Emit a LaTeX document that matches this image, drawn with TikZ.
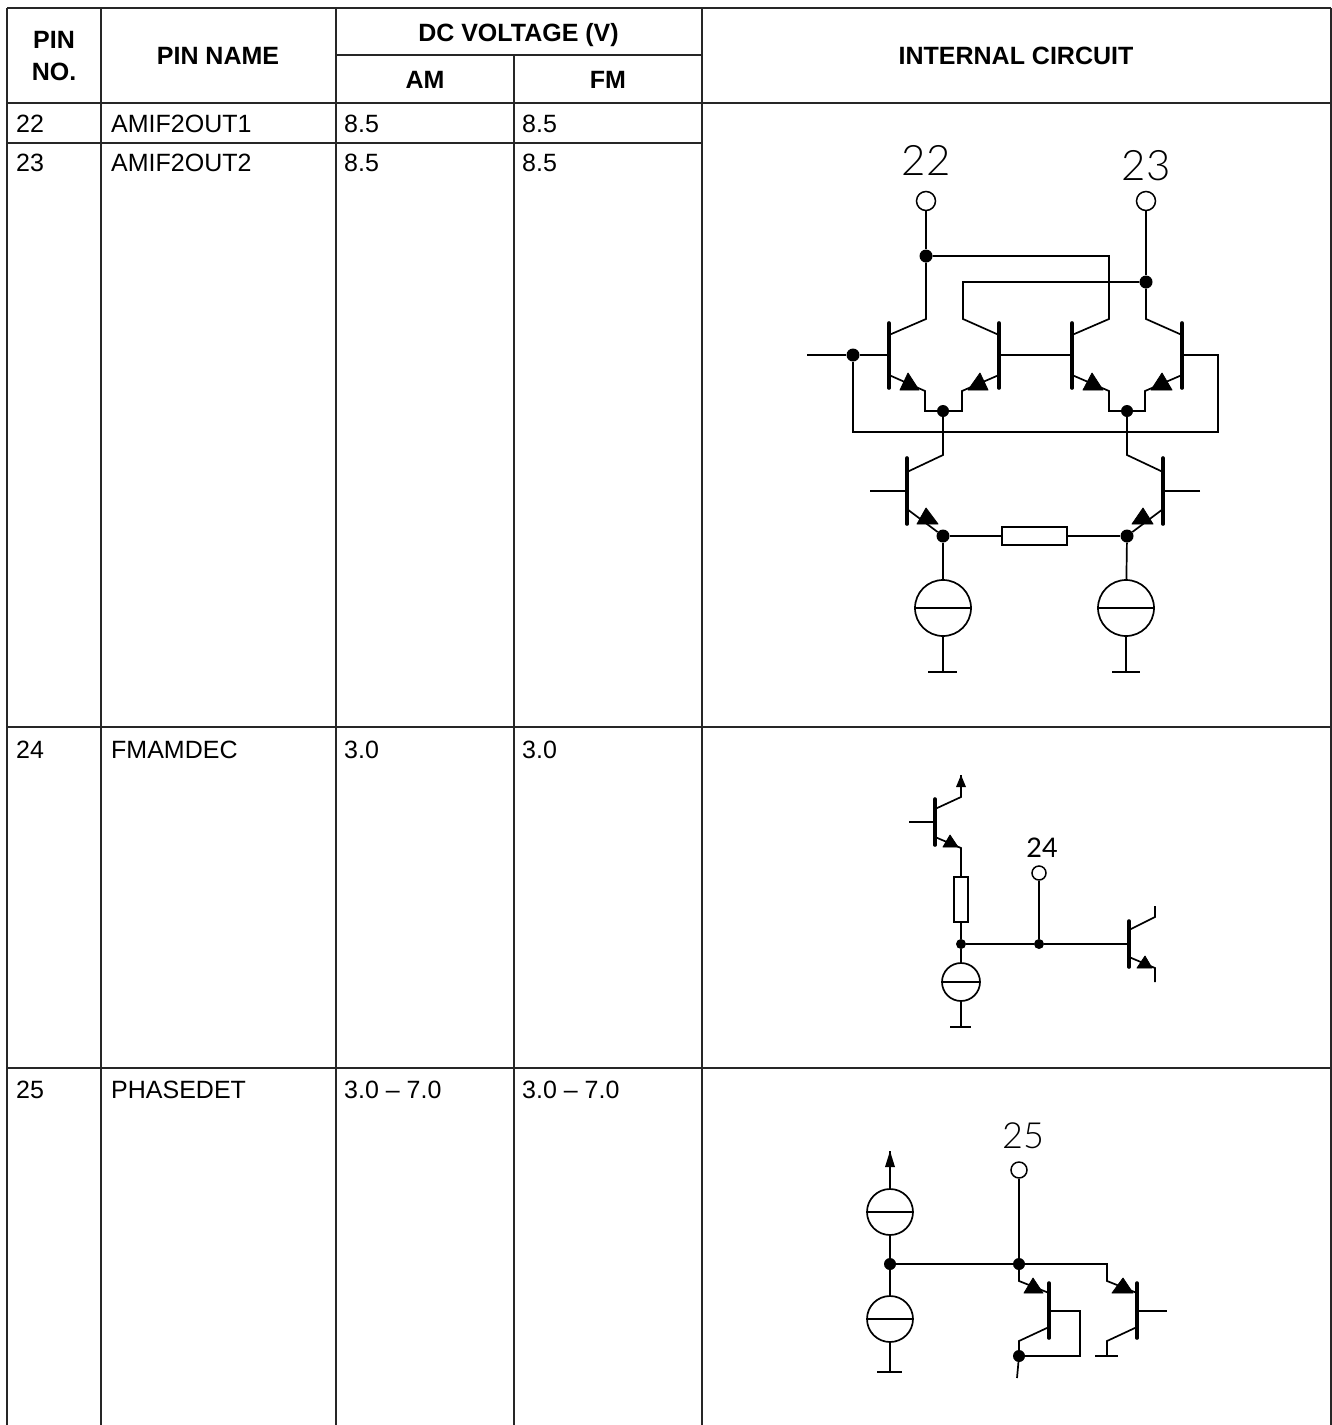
\documentclass[tikz,border=0pt]{standalone}
\usepackage{fontspec}
\setmainfont{Liberation Sans}
\newfontfamily\thinfont{Lato Light}
\newfontfamily\midfont{Lato}
\newcommand{\qbar}[7]{% name, x, top, bottom, collector y, base y, emitter y
  \coordinate (#1c) at (#2,#5);
  \coordinate (#1b) at (#2,#6);
  \coordinate (#1e) at (#2,#7);
  \coordinate (#1top) at (#2,#3);
  \coordinate (#1bot) at (#2,#4);
  \draw[tbar] (#1top) -- (#1bot);}
\newcommand{\tri}[5]{\filldraw[black,line width=0.8pt,line join=round] (#1,#4) -- (#3,#5) -- (#2,#4) -- cycle;}
\newcommand{\srcline}[1]{\draw[wire] (#1.west) -- (#1.east);}
\begin{document}
\begin{tikzpicture}[x=1pt,y=-1pt,
  grid/.style={line width=1.6pt,draw=black!85},
  wire/.style={line width=1.7pt,line join=miter},
  tbar/.style={line width=3.6pt,line cap=round},
  dot/.style={circle,fill=black,inner sep=0pt,minimum size=#1},
  dot/.default=13pt,
  pin/.style={circle,draw,line width=1.5pt,fill=white,inner sep=0pt,minimum size=#1},
  src/.style={circle,draw,line width=1.7pt,inner sep=0pt,minimum size=#1},
  res/.style={rectangle,draw,line width=1.4pt,inner sep=0pt},
  head/.style={font=\fontsize{25}{30}\selectfont\bfseries,inner sep=0pt,align=center},
  cell/.style={font=\fontsize{25}{30}\selectfont,inner sep=0pt,anchor=base west},
  lab/.style={inner sep=0pt,font=\thinfont\fontsize{#1}{#1}\selectfont},
  labm/.style={inner sep=0pt,font=\midfont\fontsize{#1}{#1}\selectfont},
]
\useasboundingbox (0,0) rectangle (1332,1425);
\fill[white] (0,0) rectangle (1332,1425);

% table
\coordinate (tl) at (7,8); \coordinate (tr) at (1331,8);
\draw[grid] (tl) -- (tr);
\draw[grid] (336,55) -- (702,55);
\draw[grid] (7,103) -- (1331,103);
\draw[grid] (7,143) -- (702,143);
\draw[grid] (7,727) -- (1331,727);
\draw[grid] (7,1068) -- (1331,1068);
\draw[grid] (7,8) -- (7,1425);
\draw[grid] (101,8) -- (101,1425);
\draw[grid] (336,8) -- (336,1425);
\draw[grid] (514,55) -- (514,1425);
\draw[grid] (702,8) -- (702,1425);
\draw[grid] (1331,8) -- (1331,1425);

\node[head,anchor=base] (hpin) at (54,48) {PIN};
\node[head,anchor=base] (hno) at (54,80) {NO.};
\node[head,anchor=base] (hname) at (218,64) {PIN NAME};
\node[head,anchor=base] (hdc) at (518.5,41) {DC VOLTAGE (V)};
\node[head,anchor=base] (ham) at (425,88) {AM};
\node[head,anchor=base] (hfm) at (608,88) {FM};
\node[head,anchor=base] (hint) at (1016,64) {INTERNAL CIRCUIT};

\node[cell] (a1) at (111,132) {AMIF2OUT1};
\node[cell] (a2) at (111,171) {AMIF2OUT2};
\node[cell] (a3) at (111,758) {FMAMDEC};
\node[cell] (a4) at (111,1098) {PHASEDET};
\node[cell] (n1) at (16,132) {22};
\node[cell] (n2) at (16,171) {23};
\node[cell] (n3) at (16,758) {24};
\node[cell] (n4) at (16,1098) {25};
\node[cell] (b1) at (344,132) {8.5};
\node[cell] (b2) at (344,171) {8.5};
\node[cell] (b3) at (344,758) {3.0};
\node[cell] (b4) at (344,1098) {3.0 – 7.0};
\node[cell] (c1) at (522,132) {8.5};
\node[cell] (c2) at (522,171) {8.5};
\node[cell] (c3) at (522,758) {3.0};
\node[cell] (c4) at (522,1098) {3.0 – 7.0};

% ---------- circuit 22/23 ----------
\node[lab=42] (l22) at (926,160) {22};
\node[lab=42] (l23) at (1146,166) {23};
\node[pin=19pt] (p22) at (926,201) {};
\node[pin=19pt] (p23) at (1146,201) {};
\node[dot] (d22) at (926,256) {};
\node[dot] (d23) at (1146,282) {};
\node[dot] (din) at (853,355) {};
\node[dot=12pt] (dm1) at (943,411) {};
\node[dot=12pt] (dm2) at (1127,411) {};
\node[dot] (dl) at (943,536) {};
\node[dot] (dr) at (1127,536) {};
\coordinate (inl) at (807,355);

\qbar{q1}{889}{323}{388}{335}{355}{375}
\qbar{q2}{999}{323}{388}{335}{355}{375}
\qbar{q3}{1072}{323}{388}{335}{355}{375}
\qbar{q4}{1182}{323}{388}{335}{355}{375}

\draw[wire] (p22) -- (d22);
\draw[wire] (p23) -- (d23);
\draw[wire] (d22) -- (926,319) -- (q1c);
\draw[wire] (d22) -- (1109,256) -- (1109,319) -- (q3c);
\draw[wire] (d23) -- (963,282) -- (963,319) -- (q2c);
\draw[wire] (d23) -- (1146,319) -- (q4c);
\draw[wire] (inl) -- (din) -- (q1b);
\draw[wire] (q2b) -- (q3b);
\draw[wire] (q4b) -- (1218,355) -- (1218,432) -- (853,432) -- (din);
\draw[wire] (q1e) -- (925,391) -- (925,411) -- (dm1);
\draw[wire] (q2e) -- (962,391) -- (962,411) -- (dm1);
\draw[wire] (q3e) -- (1109,391) -- (1109,411) -- (dm2);
\draw[wire] (q4e) -- (1145,391) -- (1145,411) -- (dm2);
\tri{900}{919}{908}{390}{373}
\tri{968}{988}{980}{390}{373}
\tri{1083}{1103}{1092}{390}{373}
\tri{1151}{1172}{1162}{390}{373}

\qbar{q5}{907}{458}{524}{472}{491}{509}
\qbar{q6}{1163}{458}{524}{472}{491}{509}
\coordinate (b5) at (870,491);
\coordinate (b6) at (1200,491);
\draw[wire] (dm1) -- (943,455) -- (q5c);
\draw[wire] (dm2) -- (1127,455) -- (q6c);
\draw[wire] (b5) -- (q5b);
\draw[wire] (b6) -- (q6b);
\draw[wire] (q5e) -- (dl);
\draw[wire] (q6e) -- (dr);
\tri{917}{938}{926}{524}{508}
\tri{1132}{1153}{1143}{524}{508}
\node[res,minimum width=65pt,minimum height=18pt] (r1) at (1034.5,536) {};
\draw[wire] (dl) -- (r1);
\draw[wire] (r1) -- (dr);
\node[src=56pt] (s1) at (943,608) {};
\node[src=56pt] (s2) at (1126,608) {};
\srcline{s1}\srcline{s2}
\coordinate (g1) at (943,672);
\coordinate (g2) at (1126,672);
\draw[wire] (dl) -- (s1);
\draw[wire] (dr) -- (s2);
\draw[wire] (s1) -- (g1);
\draw[wire] (s2) -- (g2);
\draw[wire] (928,672) -- (957,672);
\draw[wire] (1112,672) -- (1140,672);

% ---------- circuit 24 ----------
\node[labm=27] (l24) at (1042,848) {24};
\node[pin=14pt] (p24) at (1039,873) {};
\node[dot=10pt] (d24a) at (961,944) {};
\node[dot=10pt] (d24b) at (1039,944) {};
\qbar{q7}{935}{799}{845}{809}{822}{837}
\qbar{q8}{1129}{921}{967}{930}{944}{957}
\coordinate (b7) at (909,822);
\coordinate (v7) at (961,775);
\draw[wire] (b7) -- (q7b);
\draw[wire] (q7c) -- (961,797) -- (v7);
\fill (956,787) -- (961,775) -- (966,787) -- cycle;
\node[res,minimum width=14pt,minimum height=45pt] (r2) at (961,899.5) {};
\draw[wire] (q7e) -- (961,848) -- (r2);
\tri{943}{958}{950}{847}{835}
\draw[wire] (r2) -- (d24a);
\draw[wire] (d24a) -- (d24b);
\draw[wire] (d24b) -- (q8b);
\draw[wire] (p24) -- (d24b);
\draw[wire] (q8c) -- (1155,917) -- (1155,906);
\draw[wire] (q8e) -- (1155,968) -- (1155,982);
\tri{1137}{1152}{1145}{968}{956}
\node[src=38pt] (s3) at (961,982) {};
\srcline{s3}
\coordinate (g3) at (961,1027);
\draw[wire] (d24a) -- (s3);
\draw[wire] (s3) -- (g3);
\draw[wire] (950,1027) -- (971,1027);

% ---------- circuit 25 ----------
\node[lab=36] (l25) at (1023,1136) {25};
\node[pin=16pt] (p25) at (1019,1170) {};
\node[dot=12pt] (d25) at (1019,1264) {};
\node[dot=12pt] (d25l) at (890,1264) {};
\node[dot=12pt] (d25b) at (1019,1356) {};
\node[src=46pt] (s4) at (890,1212) {};
\node[src=46pt] (s5) at (890,1319) {};
\srcline{s4}\srcline{s5}
\coordinate (v25) at (890,1151);
\coordinate (g5) at (890,1372);
\draw[wire] (s4) -- (v25);
\fill (885,1167) -- (890,1151) -- (895,1167) -- cycle;
\draw[wire] (s4) -- (d25l);
\draw[wire] (d25l) -- (s5);
\draw[wire] (s5) -- (g5);
\draw[wire] (877,1372) -- (902,1372);
\draw[wire] (p25) -- (d25);
\draw[wire] (d25l) -- (d25);
\qbar{q9}{1049}{1283}{1338}{1327}{1311}{1293}
\qbar{q10}{1137}{1283}{1338}{1327}{1311}{1293}
\coordinate (b10) at (1167,1311);
\draw[wire] (d25) -- (1107,1264) -- (1107,1281) -- (q10e);
\draw[wire] (d25) -- (1019,1281) -- (q9e);
\tri{1024}{1043}{1033}{1293}{1278}
\tri{1112}{1133}{1123}{1293}{1278}
\draw[wire] (q10b) -- (b10);
\draw[wire] (q10c) -- (1107,1341) -- (1107,1356);
\draw[wire] (1095,1356) -- (1118,1356);
\draw[wire] (q9b) -- (1080,1311) -- (1080,1356) -- (d25b);
\draw[wire] (q9c) -- (1019,1341) -- (d25b);
\coordinate (o25) at (1017,1378);
\draw[wire] (d25b) -- (o25);
\end{tikzpicture}
\end{document}
